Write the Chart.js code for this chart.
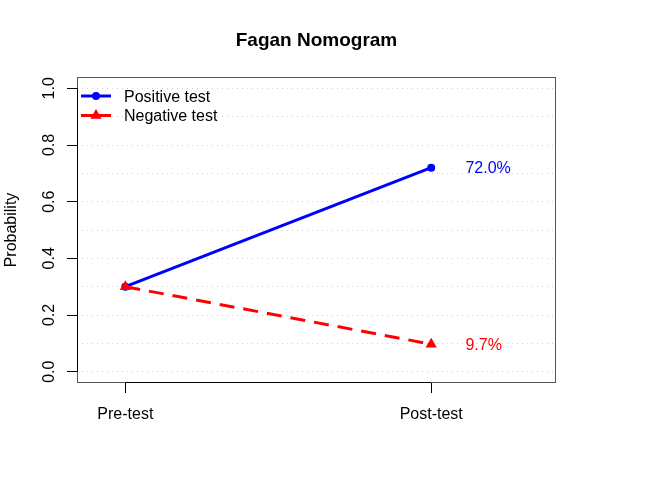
<!DOCTYPE html>
<html>
<head>
<meta charset="utf-8">
<title>Fagan Nomogram</title>
<script src="https://cdn.jsdelivr.net/npm/chart.js@4/dist/chart.umd.min.js"></script>
<style>
  html, body { margin: 0; padding: 0; background: #fff; }
  #wrap { width: 672px; height: 480px; }
</style>
</head>
<body>
<div id="wrap"><canvas id="fagan" width="672" height="480"></canvas></div>
<script>
// ---- data ----
const stageNames = ["Pre-test", "Post-test"];
const stageX = [1, 2];
const positiveProb = [0.30, 0.72];
const negativeProb = [0.30, 0.097];
const seriesNames = ["Positive test", "Negative test"];
const postLabels = ["72.0%", "9.7%"];
const yTicks = [0, 0.1, 0.2, 0.3, 0.4, 0.5, 0.6, 0.7, 0.8, 0.9, 1.0];
const yLabelTicks = [0, 0.2, 0.4, 0.6, 0.8, 1.0];

const FONT = "'Liberation Sans', Arial, Helvetica, sans-serif";
const BLUE = "#0000ff", RED = "#ff0000";
const DASH = [15, 9];

const isLabelled = v => yLabelTicks.some(t => Math.abs(t - v) < 1e-9);

/* ---------- title, legend, box, end labels ---------- */
const rDecor = {
  id: "rDecor",
  afterDraw(chart) {
    const ctx = chart.ctx, a = chart.chartArea;
    const xs = chart.scales.x, ys = chart.scales.y;
    ctx.save();

    // plot box + axis lines
    ctx.strokeStyle = "#555";
    ctx.lineWidth = 1;
    ctx.strokeRect(a.left + 0.5, a.top + 0.5, a.right - a.left - 1, a.bottom - a.top - 1);
    ctx.strokeStyle = "#000";
    ctx.beginPath();
    ctx.moveTo(xs.getPixelForValue(stageX[0]), a.bottom - 0.5);
    ctx.lineTo(xs.getPixelForValue(stageX[1]), a.bottom - 0.5);
    ctx.moveTo(a.left + 0.5, ys.getPixelForValue(yLabelTicks[0]));
    ctx.lineTo(a.left + 0.5, ys.getPixelForValue(yLabelTicks[yLabelTicks.length - 1]));
    ctx.stroke();

    // title
    ctx.fillStyle = "#000";
    ctx.font = "bold 19px " + FONT;
    ctx.textAlign = "center";
    ctx.textBaseline = "alphabetic";
    ctx.fillText("Fagan Nomogram", (a.left + a.right) / 2, 46);

    // legend (top-left, no box)
    const colors = [BLUE, RED];
    const styles = ["circle", "triangle"];
    const radii = [4, 6.5];
    ctx.font = "16px " + FONT;
    ctx.textAlign = "left";
    for (let i = 0; i < seriesNames.length; i++) {
      const y = a.top + 19 + i * 19.5;
      const x0 = a.left + 4, x1 = a.left + 34;
      ctx.strokeStyle = colors[i];
      ctx.lineWidth = 3;
      ctx.setLineDash(i === 1 ? [12, 6] : []);
      ctx.beginPath();
      ctx.moveTo(x0, y);
      ctx.lineTo(x1, y);
      ctx.stroke();
      ctx.setLineDash([]);
      ctx.fillStyle = colors[i];
      Chart.helpers.drawPoint(ctx, { pointStyle: styles[i], radius: radii[i], borderWidth: 0 }, (x0 + x1) / 2, y);
      ctx.fillStyle = "#000";
      ctx.fillText(seriesNames[i], a.left + 47, y + 5.5);
    }

    // post-test percentages
    const ends = [positiveProb[1], negativeProb[1]];
    for (let i = 0; i < ends.length; i++) {
      ctx.fillStyle = colors[i];
      ctx.fillText(postLabels[i], xs.getPixelForValue(2.112), ys.getPixelForValue(ends[i]) + 5.5);
    }
    ctx.restore();
  }
};

new Chart(document.getElementById("fagan"), {
  type: "line",
  data: {
    datasets: [
      {
        label: seriesNames[0],
        data: stageX.map((x, i) => ({ x: x, y: positiveProb[i] })),
        borderColor: BLUE,
        backgroundColor: BLUE,
        borderWidth: 3,
        pointStyle: "circle",
        pointRadius: 4,
        pointBorderWidth: 0,
        order: 1
      },
      {
        label: seriesNames[1],
        data: stageX.map((x, i) => ({ x: x, y: negativeProb[i] })),
        borderColor: RED,
        backgroundColor: RED,
        borderWidth: 3,
        borderDash: DASH,
        pointStyle: "triangle",
        pointRadius: 6.5,
        pointBorderWidth: 0,
        order: 0
      }
    ]
  },
  options: {
    responsive: false,
    animation: false,
    devicePixelRatio: 1,
    layout: { padding: { top: 77, right: 116, bottom: 0, left: 0 } },
    plugins: { legend: { display: false }, title: { display: false }, tooltip: { enabled: false } },
    scales: {
      x: {
        type: "linear",
        min: 0.842,
        max: 2.408,
        afterBuildTicks: s => { s.ticks = stageX.map(v => ({ value: v })); },
        afterFit: s => { s.height = 97; },
        grid: { drawOnChartArea: false, tickLength: 10, tickColor: "#000", tickWidth: 1 },
        border: { display: false },
        ticks: {
          autoSkip: false,
          maxRotation: 0,
          padding: 12,
          color: "#000",
          font: { family: FONT, size: 16 },
          callback: v => stageNames[stageX.indexOf(v)]
        }
      },
      y: {
        min: -0.04,
        max: 1.04,
        afterBuildTicks: s => { s.ticks = yTicks.map(v => ({ value: v })); },
        afterFit: s => { s.width = 77; },
        grid: {
          color: "#d0d0d0",
          lineWidth: 1,
          tickLength: 10,
          tickWidth: 1,
          tickBorderDash: [],
          tickColor: c => (c.tick && isLabelled(c.tick.value)) ? "#000" : "rgba(0,0,0,0)"
        },
        border: { display: false, dash: [1, 4] },
        title: {
          display: true,
          text: "Probability",
          color: "#000",
          font: { family: FONT, size: 16 },
          padding: { top: 2, bottom: 0 }
        },
        ticks: {
          autoSkip: false,
          minRotation: 90,
          maxRotation: 90,
          crossAlign: "center",
          padding: 6,
          color: "#000",
          font: { family: FONT, size: 16 },
          callback: v => isLabelled(v) ? v.toFixed(1) : ""
        }
      }
    }
  },
  plugins: [rDecor]
});
</script>
</body>
</html>
